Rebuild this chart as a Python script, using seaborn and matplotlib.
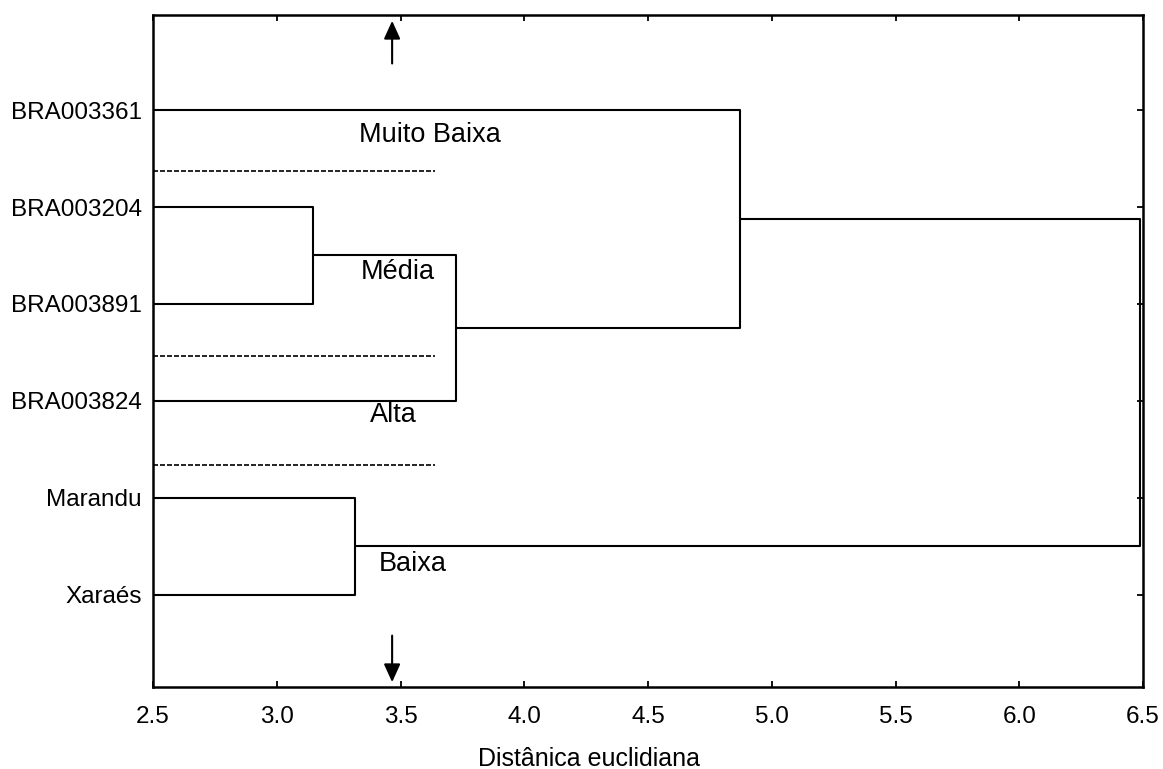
import pandas as pd
import matplotlib
matplotlib.use("Agg")
import matplotlib.pyplot as plt
import seaborn as sns

# leaves, top to bottom
leaves = ["BRA003361", "BRA003204", "BRA003891", "BRA003824", "Marandu", "Xaraés"]
# merges: (left node, right node, fusion distance); nodes 0-5 are leaves, 6+ are clusters
merges = [
    (1, 2, 3.146),
    (6, 3, 3.724),
    (0, 7, 4.872),
    (4, 5, 3.316),
    (8, 9, 6.488),
]
# group separators (y position between leaves) and labels
sep_y = [1.63, 3.54, 4.66]
sep_x_end = 3.64
group_names = ["Muito Baixa", "Média", "Alta", "Baixa"]
group_x = [3.62, 3.49, 3.47, 3.55]
group_y = [1.26, 2.67, 4.14, 5.68]
cut_x = 3.466
x_ticks = [2.5, 3.0, 3.5, 4.0, 4.5, 5.0, 5.5, 6.0, 6.5]

sns.set_style("ticks")
plt.rcParams["font.family"] = ["Liberation Sans", "DejaVu Sans"]
plt.rcParams["text.color"] = "black"

# build dendrogram segments
pos = {i: i + 1 for i in range(len(leaves))}
height = {i: 0.0 for i in range(len(leaves))}
rows = []
for k, (a, b, h) in enumerate(merges):
    seg = f"m{k}"
    for x, y in [(height[a], pos[a]), (h, pos[a]), (h, pos[b]), (height[b], pos[b])]:
        rows.append({"seg": seg, "x": x, "y": y})
    node = len(leaves) + k
    pos[node] = (pos[a] + pos[b]) / 2
    height[node] = h
segs = pd.DataFrame(rows)

fig = plt.figure(figsize=(11.63, 7.69), dpi=100)
ax = fig.add_axes([0.1316, 0.1066, 0.8512, 0.8739])

sns.lineplot(data=segs, x="x", y="y", units="seg", estimator=None, sort=False,
             color="black", linewidth=1.5, ax=ax)

for y in sep_y:
    ax.plot([2.5, sep_x_end], [y, y], color="black", linewidth=1.2,
            linestyle=(0, (3, 1.2)))

for name, x, y in zip(group_names, group_x, group_y):
    ax.text(x, y, name, ha="center", va="center", fontsize=19.5, color="black")

arrow = dict(arrowstyle="-|>,head_length=1.1,head_width=0.5", color="black",
             lw=1.5, shrinkA=0, shrinkB=0)
ax.annotate("", xy=(cut_x, 0.08), xytext=(cut_x, 0.52), arrowprops=arrow)
ax.annotate("", xy=(cut_x, 6.9), xytext=(cut_x, 6.42), arrowprops=arrow)

ax.set_xlim(2.5, 6.5)
ax.set_ylim(6.95, 0.02)
ax.set_xticks(x_ticks)
ax.set_xticklabels([f"{t:.1f}" for t in x_ticks])
ax.set_yticks(range(1, len(leaves) + 1))
ax.set_yticklabels(leaves)
ax.tick_params(axis="both", direction="in", length=4, width=1.3, labelsize=17.5,
               top=True, right=True, colors="black", labelcolor="black")
ax.tick_params(axis="x", pad=14)
ax.tick_params(axis="y", pad=8)
for s in ax.spines.values():
    s.set_linewidth(1.8)
    s.set_color("black")
ax.set_ylabel("")
ax.set_xlabel("Distânica euclidiana", fontsize=18, color="black")
ax.xaxis.label.set_verticalalignment("baseline")
ax.xaxis.set_label_coords(0.44, -0.117)

fig.savefig("out.png", dpi=100)
